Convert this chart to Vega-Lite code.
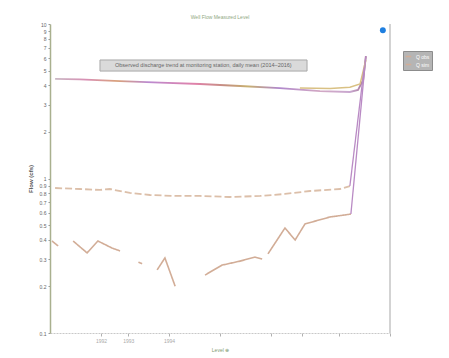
{
  "$schema": "https://vega.github.io/schema/vega-lite/v6.json",
  "width": 340,
  "height": 309,
  "autosize": {"type": "none"},
  "padding": {"left": 50, "top": 24, "right": 59, "bottom": 25},
  "background": "white",
  "title": {"text": "Well Flow     Measured Level", "fontSize": 5, "color": "#8fa882", "fontWeight": "normal", "offset": 2},
  "config": {"view": {"stroke": null}},
  "datasets": {
    "top": [
      {"x": 1.5, "v": 4.41}, {"x": 8.8, "v": 4.38}, {"x": 20.6, "v": 4.27}, {"x": 32.4, "v": 4.18},
      {"x": 44.1, "v": 4.09}, {"x": 55.9, "v": 3.97}, {"x": 67.6, "v": 3.85}, {"x": 79.4, "v": 3.68},
      {"x": 88.2, "v": 3.63}, {"x": 90.6, "v": 3.74}, {"x": 92.1, "v": 4.34}, {"x": 92.9, "v": 6.2}
    ],
    "top2": [
      {"x": 73.5, "v": 3.85}, {"x": 82.4, "v": 3.82}, {"x": 88.2, "v": 3.9}, {"x": 91.2, "v": 4.09}, {"x": 92.9, "v": 5.85}
    ],
    "mid": [
      {"x": 1.5, "v": 0.868, "series": "Q obs"}, {"x": 8.8, "v": 0.855, "series": "Q obs"}, {"x": 14.7, "v": 0.843, "series": "Q obs"},
      {"x": 17.6, "v": 0.855, "series": "Q obs"}, {"x": 23.5, "v": 0.806, "series": "Q obs"}, {"x": 29.4, "v": 0.782, "series": "Q obs"},
      {"x": 36.8, "v": 0.771, "series": "Q obs"}, {"x": 44.1, "v": 0.771, "series": "Q obs"}, {"x": 52.9, "v": 0.759, "series": "Q obs"},
      {"x": 61.8, "v": 0.771, "series": "Q obs"}, {"x": 69.1, "v": 0.794, "series": "Q obs"}, {"x": 76.5, "v": 0.83, "series": "Q obs"},
      {"x": 85.3, "v": 0.855, "series": "Q obs"}, {"x": 88.2, "v": 0.894, "series": "Q obs"}
    ],
    "low": [
      {"x": 0.6, "v": 0.394, "seg": "A", "series": "Q sim"}, {"x": 2.4, "v": 0.366, "seg": "A", "series": "Q sim"},
      {"x": 6.8, "v": 0.394, "seg": "B", "series": "Q sim"}, {"x": 10.9, "v": 0.33, "seg": "B", "series": "Q sim"},
      {"x": 14.1, "v": 0.394, "seg": "B", "series": "Q sim"}, {"x": 18.2, "v": 0.355, "seg": "B", "series": "Q sim"},
      {"x": 20.6, "v": 0.34, "seg": "B", "series": "Q sim"},
      {"x": 26.0, "v": 0.287, "seg": "C", "series": "Q sim"}, {"x": 27.1, "v": 0.281, "seg": "C", "series": "Q sim"},
      {"x": 31.5, "v": 0.256, "seg": "D", "series": "Q sim"}, {"x": 33.8, "v": 0.306, "seg": "D", "series": "Q sim"},
      {"x": 36.8, "v": 0.201, "seg": "D", "series": "Q sim"},
      {"x": 45.6, "v": 0.237, "seg": "E", "series": "Q sim"}, {"x": 47.6, "v": 0.252, "seg": "E", "series": "Q sim"},
      {"x": 50.6, "v": 0.275, "seg": "E", "series": "Q sim"}, {"x": 55.9, "v": 0.292, "seg": "E", "series": "Q sim"},
      {"x": 60.3, "v": 0.31, "seg": "E", "series": "Q sim"}, {"x": 62.4, "v": 0.301, "seg": "E", "series": "Q sim"},
      {"x": 64.1, "v": 0.325, "seg": "F", "series": "Q sim"}, {"x": 69.1, "v": 0.478, "seg": "F", "series": "Q sim"},
      {"x": 72.1, "v": 0.4, "seg": "F", "series": "Q sim"}, {"x": 75.0, "v": 0.508, "seg": "F", "series": "Q sim"},
      {"x": 82.4, "v": 0.564, "seg": "F", "series": "Q sim"}, {"x": 86.8, "v": 0.581, "seg": "F", "series": "Q sim"},
      {"x": 88.5, "v": 0.589, "seg": "F", "series": "Q sim"}
    ],
    "rise": [
      {"x": 88.5, "v": 0.589, "seg": "r1"}, {"x": 92.9, "v": 6.2, "seg": "r1"},
      {"x": 88.2, "v": 0.894, "seg": "r2"}, {"x": 92.4, "v": 5.2, "seg": "r2"}
    ],
    "box": [{"x1": 14.7, "x2": 75.6, "y1": 4.96, "y2": 5.85, "xm": 45.1, "ym": 5.39, "label": "Observed discharge trend at monitoring station, daily mean (2014–2016)"}],
    "marker": [{"x": 97.9, "v": 9.1}],
    "edge": [{"x": 100}]
  },
  "layer": [
    {
      "data": {"name": "box"},
      "mark": {"type": "rect", "fill": "#dadada", "stroke": "#a8a8a8", "strokeWidth": 1},
      "encoding": {
        "x": {"field": "x1", "type": "quantitative", "scale": {"domain": [0, 100], "nice": false, "zero": false},
          "axis": {"values": [15, 23, 35, 50, 65, 74, 85, 100], "labelExpr": "datum.value == 15 ? '1992' : datum.value == 23 ? '1993' : datum.value == 35 ? '1994' : ''",
            "labelFontSize": 5, "labelColor": "#aaaaaa", "tickSize": 3, "tickColor": "#b0b0b0", "domainColor": "#c8c8c8", "domainDash": [2, 1],
            "title": "Level ⊕", "titleFontSize": 5, "titleColor": "#7f9a70", "titleFontWeight": "normal", "titlePadding": 4, "grid": false}},
        "x2": {"field": "x2"},
        "y": {"field": "y1", "type": "quantitative",
          "scale": {"type": "log", "domain": [0.1, 10], "nice": false},
          "axis": {"values": [0.1, 0.2, 0.3, 0.4, 0.5, 0.6, 0.7, 0.8, 0.9, 1, 2, 3, 4, 5, 6, 7, 8, 9, 10],
            "labelFontSize": 5, "labelColor": "#666666", "tickSize": 2, "tickColor": "#999999", "domainColor": "#a9b08e", "domainWidth": 1.5,
            "grid": false, "title": "Flow (cfs)", "titleFontSize": 6, "titleColor": "#555555", "titlePadding": 6}},
        "y2": {"field": "y2"}
      }
    },
    {
      "data": {"name": "box"},
      "mark": {"type": "text", "fontSize": 5.5, "color": "#666666", "align": "center", "baseline": "middle"},
      "encoding": {
        "x": {"field": "xm", "type": "quantitative"},
        "y": {"field": "ym", "type": "quantitative", "axis": null},
        "text": {"field": "label"}
      }
    },
    {
      "data": {"name": "edge"},
      "mark": {"type": "rule", "color": "#c4c4c4", "strokeWidth": 1.5},
      "encoding": {
        "x": {"field": "x", "type": "quantitative"}
      }
    },
    {
      "data": {"name": "top"},
      "mark": {"type": "line", "strokeWidth": 1.8,
        "color": {"gradient": "linear", "x1": 0, "x2": 1, "y1": 0, "y2": 0,
          "stops": [
            {"offset": 0, "color": "#c9b8c4"}, {"offset": 0.1, "color": "#d88fb4"}, {"offset": 0.2, "color": "#d9a27c"},
            {"offset": 0.3, "color": "#bb8ad0"}, {"offset": 0.45, "color": "#e082aa"}, {"offset": 0.55, "color": "#c49080"},
            {"offset": 0.62, "color": "#c8b070"}, {"offset": 0.72, "color": "#b088cc"}, {"offset": 0.85, "color": "#d2a8c4"},
            {"offset": 0.95, "color": "#c9a8d0"}, {"offset": 1, "color": "#a07090"}]}},
      "encoding": {
        "x": {"field": "x", "type": "quantitative"},
        "y": {"field": "v", "type": "quantitative", "axis": null}
      }
    },
    {
      "data": {"name": "top2"},
      "mark": {"type": "line", "strokeWidth": 1.5, "color": "#d9c184"},
      "encoding": {
        "x": {"field": "x", "type": "quantitative"},
        "y": {"field": "v", "type": "quantitative", "axis": null}
      }
    },
    {
      "data": {"name": "mid"},
      "mark": {"type": "line", "strokeWidth": 1.8, "color": "#dcbfa9"},
      "encoding": {
        "x": {"field": "x", "type": "quantitative"},
        "y": {"field": "v", "type": "quantitative", "axis": null},
        "strokeDash": {"field": "series", "type": "nominal",
          "scale": {"domain": ["Q obs", "Q sim"], "range": [[7, 3], [1, 0]]},
          "legend": {"orient": "none", "legendX": 353, "legendY": 27, "title": null, "fillColor": "#b5b5b5", "strokeColor": "#8c8c8c",
            "padding": 2, "labelFontSize": 5, "labelColor": "#ffffff", "symbolStrokeColor": "#ffffff", "symbolSize": 30, "symbolStrokeWidth": 1.5, "rowPadding": 1}}
      }
    },
    {
      "data": {"name": "low"},
      "mark": {"type": "line", "strokeWidth": 1.6, "color": "#d2ad97"},
      "encoding": {
        "x": {"field": "x", "type": "quantitative"},
        "y": {"field": "v", "type": "quantitative", "axis": null},
        "detail": {"field": "seg"},
        "strokeDash": {"field": "series", "type": "nominal"}
      }
    },
    {
      "data": {"name": "rise"},
      "mark": {"type": "line", "strokeWidth": 1.3, "color": "#b98ac4"},
      "encoding": {
        "x": {"field": "x", "type": "quantitative"},
        "y": {"field": "v", "type": "quantitative", "axis": null},
        "detail": {"field": "seg"}
      }
    },
    {
      "data": {"name": "marker"},
      "mark": {"type": "point", "shape": "circle", "filled": true, "color": "#1f7fe0", "size": 35, "opacity": 1},
      "encoding": {
        "x": {"field": "x", "type": "quantitative"},
        "y": {"field": "v", "type": "quantitative", "axis": null}
      }
    }
  ],
  "resolve": {"axis": {"y": "independent"}}
}
